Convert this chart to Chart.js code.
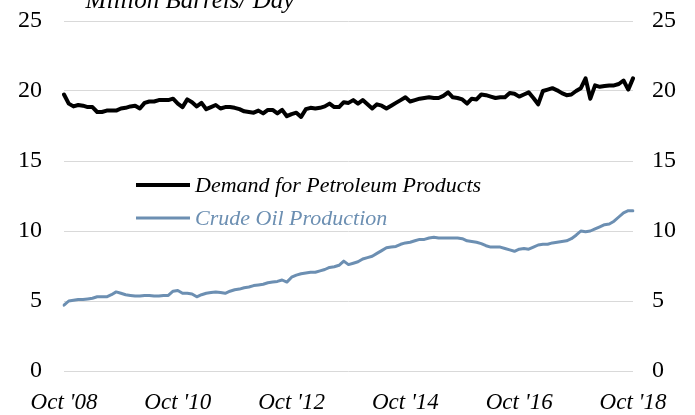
<!DOCTYPE html>
<html>
<head>
<meta charset="utf-8">
<script src="https://cdn.jsdelivr.net/npm/chart.js@4"></script>
<style>
  html, body { margin:0; padding:0; background:#fff; }
  #wrap { width:695px; height:415px; }
</style>
</head>
<body>
<div id="wrap"><canvas id="chart" width="695" height="415"></canvas></div>
<script>
// Monthly series, Oct 2008 through Oct 2018 (million barrels per day)
const demand = [
  19.75, 19.1, 18.9, 19.0, 18.95, 18.85, 18.85, 18.5, 18.5, 18.6,
  18.6, 18.6, 18.75, 18.8, 18.9, 18.95, 18.75, 19.15, 19.25, 19.25,
  19.35, 19.35, 19.35, 19.45, 19.1, 18.85, 19.4, 19.2, 18.9, 19.15,
  18.7, 18.85, 19.0, 18.75, 18.85, 18.85, 18.8, 18.7, 18.55, 18.5,
  18.45, 18.6, 18.4, 18.65, 18.65, 18.4, 18.65, 18.2, 18.35, 18.45,
  18.15, 18.7, 18.8, 18.75, 18.8, 18.9, 19.1, 18.85, 18.85, 19.2,
  19.15, 19.35, 19.1, 19.35, 19.05, 18.75, 19.05, 18.95, 18.75, 18.95,
  19.15, 19.35, 19.55, 19.25, 19.35, 19.45, 19.5, 19.55, 19.5, 19.5,
  19.65, 19.9, 19.55, 19.5, 19.4, 19.1, 19.45, 19.4, 19.75, 19.7,
  19.6, 19.5, 19.55, 19.55, 19.85, 19.8, 19.6, 19.75, 19.9, 19.5,
  19.05, 20.0, 20.1, 20.2, 20.05, 19.85, 19.7, 19.75, 20.0, 20.2,
  20.9, 19.45, 20.4, 20.3, 20.35, 20.4, 20.4, 20.5, 20.75, 20.1,
  20.9
];
const crude = [
  4.7, 5.0, 5.05, 5.1, 5.1, 5.15, 5.2, 5.3, 5.3, 5.3,
  5.45, 5.65, 5.55, 5.45, 5.4, 5.35, 5.35, 5.4, 5.4, 5.35,
  5.35, 5.4, 5.4, 5.7, 5.75, 5.55, 5.55, 5.5, 5.3, 5.45,
  5.55, 5.6, 5.65, 5.6, 5.55, 5.7, 5.8, 5.85, 5.95, 6.0,
  6.1, 6.15, 6.2, 6.3, 6.35, 6.4, 6.5, 6.35, 6.7, 6.85,
  6.95, 7.0, 7.05, 7.05, 7.15, 7.25, 7.4, 7.45, 7.55, 7.85,
  7.6, 7.7, 7.8, 8.0, 8.1, 8.2, 8.4, 8.6, 8.8, 8.85,
  8.9, 9.05, 9.15, 9.2, 9.3, 9.4, 9.4, 9.5, 9.55, 9.5,
  9.5, 9.5, 9.5, 9.5, 9.45, 9.3, 9.25, 9.2, 9.1, 8.95,
  8.85, 8.85, 8.85, 8.75, 8.65, 8.55, 8.7, 8.75, 8.7, 8.85,
  9.0, 9.05, 9.05, 9.15, 9.2, 9.25, 9.3, 9.45, 9.7, 10.0,
  9.95, 10.0, 10.15, 10.3, 10.45, 10.5, 10.7, 11.0, 11.3, 11.45,
  11.45
];
const monthNames = ['Jan','Feb','Mar','Apr','May','Jun','Jul','Aug','Sep','Oct','Nov','Dec'];
const yTicks = [0, 5, 10, 15, 20, 25];
const xTickLabels = ["Oct '08", "Oct '10", "Oct '12", "Oct '14", "Oct '16", "Oct '18"];
const seriesNames = ['Demand for Petroleum Products', 'Crude Oil Production'];
const unitLabel = 'Million Barrels/ Day';

const BLUE = '#6c8fb2';
const SERIF = "'Liberation Serif', 'Times New Roman', serif";

// month labels Oct '08 .. Oct '18
const months = [];
for (let i = 0; i < demand.length; i++) {
  const m = (9 + i) % 12;
  const yr = 8 + Math.floor((9 + i) / 12);
  months.push(monthNames[m] + " '" + String(yr).padStart(2, '0'));
}

// unit caption + in-plot legend
const overlay = {
  id: 'overlay',
  afterDraw(chart) {
    const ctx = chart.ctx;
    ctx.save();
    ctx.font = 'italic 25px ' + SERIF;
    ctx.fillStyle = '#000';
    ctx.textAlign = 'center';
    ctx.textBaseline = 'alphabetic';
    ctx.fillText(unitLabel, 190, 8);

    const items = [
      { text: seriesNames[0], color: '#000', width: 4, y: 185 },
      { text: seriesNames[1], color: BLUE, width: 3, y: 218 }
    ];
    ctx.textAlign = 'left';
    ctx.textBaseline = 'middle';
    ctx.font = 'italic 22px ' + SERIF;
    items.forEach(it => {
      ctx.strokeStyle = it.color;
      ctx.lineWidth = it.width;
      ctx.beginPath();
      ctx.moveTo(136, it.y);
      ctx.lineTo(190, it.y);
      ctx.stroke();
      ctx.fillStyle = it.color;
      ctx.fillText(it.text, 195, it.y + 1);
    });
    ctx.restore();
  }
};

const yScale = (pos, grid) => ({
  position: pos,
  min: 0, max: 25,
  afterBuildTicks: s => { s.ticks = yTicks.map(v => ({ value: v })); },
  afterFit: s => {
    s.width = pos === 'left' ? 64 : 62;
    s.paddingTop = 0;
    s.paddingBottom = 0;
  },
  border: { display: false },
  grid: { display: grid, color: '#d9d9d9', lineWidth: 1, drawTicks: false },
  ticks: {
    color: '#000',
    padding: pos === 'left' ? 22 : 19,
    font: { family: SERIF, size: 24 }
  }
});

new Chart(document.getElementById('chart'), {
  type: 'line',
  data: {
    labels: months,
    datasets: [
      { label: seriesNames[0], data: demand, borderColor: '#000', borderWidth: 4, yAxisID: 'y' },
      { label: seriesNames[1], data: crude, borderColor: BLUE, borderWidth: 3, yAxisID: 'y2' }
    ]
  },
  options: {
    responsive: false,
    animation: false,
    layout: { padding: { top: 21, left: 0, right: 0, bottom: 0 } },
    elements: {
      point: { radius: 0 },
      line: { tension: 0, borderJoinStyle: 'round', borderCapStyle: 'round' }
    },
    plugins: { legend: { display: false }, tooltip: { enabled: false }, title: { display: false } },
    scales: {
      x: {
        offset: false,
        afterFit: s => { s.height = 44; },
        border: { display: false },
        grid: { display: false },
        ticks: {
          autoSkip: false,
          maxRotation: 0,
          padding: 10,
          color: '#000',
          font: { family: SERIF, size: 23, style: 'italic' },
          callback: (v, i) => (i % 24 === 0 ? xTickLabels[i / 24] : null)
        }
      },
      y: yScale('left', true),
      y2: yScale('right', false)
    }
  },
  plugins: [overlay]
});
</script>
</body>
</html>
